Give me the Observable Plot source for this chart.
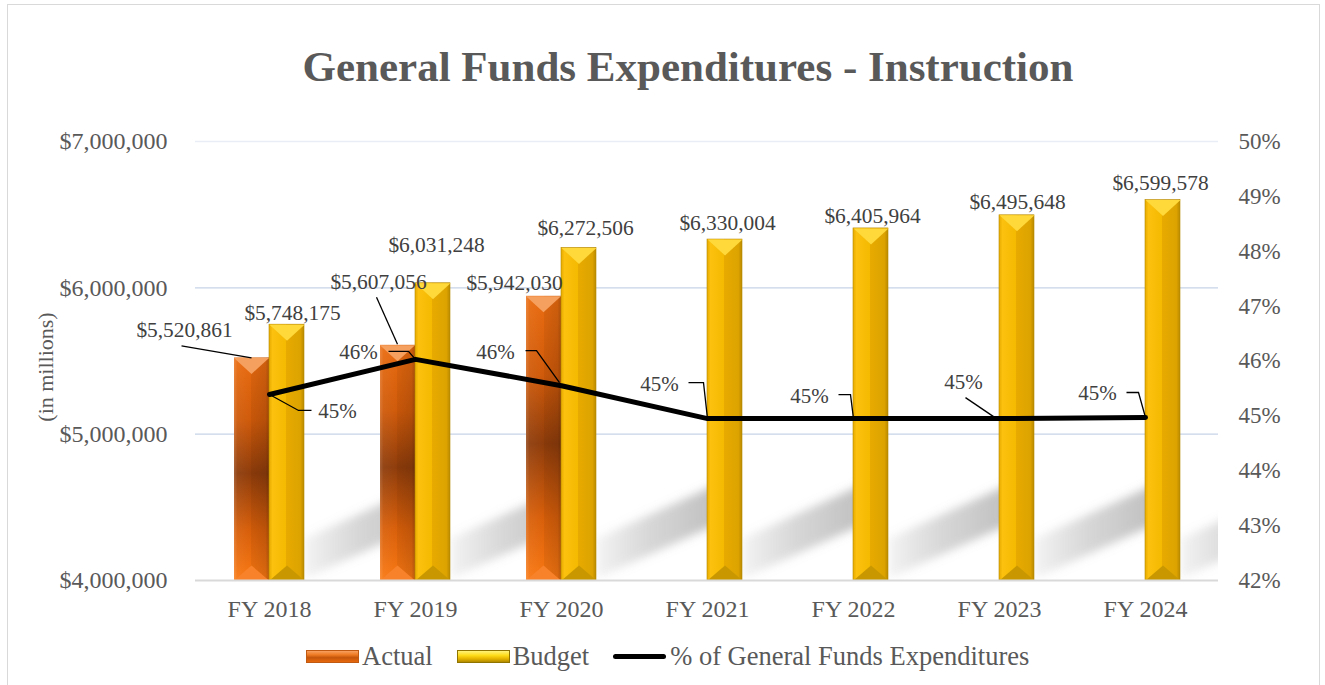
<!DOCTYPE html>
<html><head><meta charset="utf-8">
<script src="https://cdn.jsdelivr.net/npm/d3@7"></script>
<script src="https://cdn.jsdelivr.net/npm/@observablehq/plot@0.6"></script>
<style>
html,body{margin:0;padding:0;background:#fff;width:1325px;height:685px;overflow:hidden;}
#frame{position:absolute;left:7px;top:4px;width:1313px;height:720px;border:1px solid #d9d9d9;box-sizing:border-box;}
#title{position:absolute;top:45px;left:688px;transform:translateX(-50%);white-space:nowrap;font:bold 43px "Liberation Serif";color:#595959;line-height:43px;}
#chart{position:absolute;left:0;top:100px;}
#legend{position:absolute;left:306px;top:640px;height:32px;display:flex;align-items:center;font:26.5px "Liberation Serif";color:#595959;white-space:nowrap;}
.sw{width:53px;height:13px;box-sizing:border-box;margin-right:3px;}
.swA{background:linear-gradient(to bottom,#f7a060,#ef7a22 35%,#c4560c 60%,#e8680c);border:1px solid #c05a12;}
.swB{background:linear-gradient(to bottom,#fff27a,#ffdc1a 40%,#e6b400 70%,#b08a00);border:1px solid #8f7400;}
.swL{width:53px;height:5px;background:#000;border-radius:3px;margin-right:4px;}
.it{margin-right:24px;}
</style></head>
<body>
<div id="frame"></div>
<div id="title">General Funds Expenditures - Instruction</div>
<div id="chart"></div>
<div id="legend"></div>
<script>
// ---------- data ----------
const years = ["FY 2018","FY 2019","FY 2020","FY 2021","FY 2022","FY 2023","FY 2024"];
const actual = [5520861, 5607056, 5942030, null, null, null, null];
const budget = [5748175, 6031248, 6272506, 6330004, 6405964, 6495648, 6599578];
const pctOfGF = [45.39, 46.03, 45.55, 44.95, 44.95, 44.95, 44.97];
const dollarTicks = [4000000, 5000000, 6000000, 7000000];
const pctTicks = [42, 43, 44, 45, 46, 47, 48, 49, 50];
const seriesNames = ["Actual", "Budget", "% of General Funds Expenditures"];
const yAxisTitle = "(in millions)";

// ---------- label placement (style) ----------
const actualLabelStyle = [{dx:-85,dy:-28},{dx:-37,dy:-63},{dx:-47,dy:-13}];
const actualLeaders = [[[-18,0],[-88,-12]], [[-18,-1],[-39,-48]], null];
const budgetLabelStyle = [{dx:23,dy:-12},{dx:21,dy:-38},{dx:24,dy:-20},{dx:20,dy:-16},{dx:19,dy:-12},{dx:18,dy:-13},{dx:15,dy:-17}];
const pctLabelStyle = [{dx:68,dy:17},{dx:-57,dy:-7},{dx:-66,dy:-33},{dx:-48,dy:-34},{dx:-44,dy:-22},{dx:-36,dy:-36},{dx:-48,dy:-24}];
const pctLeaders = [
  [[0,0],[29,16],[42,16]],
  [[0,0],[-7,-8],[-27,-8]],
  [[-2,-3],[-25,-35],[-36,-35]],
  [[0,0],[-4,-36],[-19,-36]],
  [[0,0],[-3,-24],[-15,-24]],
  [[-3,0],[-34,-21]],
  [[0,0],[-7,-25],[-19,-25]]
];

// ---------- derived ----------
const rows = years.map((year, i) => ({year, actual: actual[i], budget: budget[i], pct: pctOfGF[i], i}));
const actualRows = rows.filter(d => d.actual != null);
const yMin = dollarTicks[0], yMax = dollarTicks[dollarTicks.length - 1];
const pMin = pctTicks[0], pMax = pctTicks[pctTicks.length - 1];
const pctToY = p => yMin + (p - pMin) / (pMax - pMin) * (yMax - yMin);
const yToPct = v => pMin + (v - yMin) / (yMax - yMin) * (pMax - pMin);
const fmtDollar = d => "$" + d3.format(",")(d);

const poly = (pts, close) => ({draw(ctx) {
  ctx.moveTo(pts[0][0], pts[0][1]);
  for (let k = 1; k < pts.length; ++k) ctx.lineTo(pts[k][0], pts[k][1]);
  if (close) ctx.closePath();
}});
const BW = 35;
const topTri = poly([[-BW/2,0],[BW/2,0],[0,16]], true);
const botTri = poly([[-BW/2,0],[BW/2,0],[0,-15]], true);
const shadowShape = poly([[BW,-2],[BW,-42],[BW+135,-42-0.45*135],[BW+135,-2-0.45*135]], true);

const FONT = "Liberation Serif";
const LABEL = "#404040";

const marks = [
  // shadows
  Plot.dot(rows, {x: "year", y: yMin, symbol: shadowShape, fill: "url(#gShadow)", stroke: "none", clip: true}),
  // grid
  Plot.ruleY(dollarTicks.slice(1, -1), {stroke: "#c7d3e6", strokeWidth: 1.3}),
  Plot.ruleY(dollarTicks.slice(-1), {stroke: "#e9eef6", strokeWidth: 1.3}),
  // bars
  Plot.barY(actualRows, {x: "year", y1: yMin, y2: "actual", insetLeft: 38, insetRight: 73, fill: "url(#gActualV)"}),
  Plot.barY(actualRows, {x: "year", y1: yMin, y2: "actual", insetLeft: 38, insetRight: 73, fill: "url(#gShadeH)"}),
  Plot.barY(rows, {x: "year", y1: yMin, y2: "budget", insetLeft: 73, insetRight: 38, fill: "url(#gBudgetH)", stroke: "#b58900", strokeWidth: 0.6}),
  Plot.dot(actualRows, {x: "year", y: "actual", dx: -BW/2 - 0.5, symbol: topTri, fill: "#f6a060", stroke: "none"}),
  Plot.dot(rows, {x: "year", y: "budget", dx: BW/2, symbol: topTri, fill: "#ffd83a", stroke: "none"}),
  Plot.dot(actualRows, {x: "year", y: yMin, dx: -BW/2 - 0.5, symbol: botTri, fill: "#f8822a", stroke: "none"}),
  Plot.dot(rows, {x: "year", y: yMin, dx: BW/2, symbol: botTri, fill: "#c99800", stroke: "none"}),
  // baseline
  Plot.ruleY([yMin], {stroke: "#d9d9d9", strokeWidth: 2}),
  // line
  Plot.line(rows, {x: "year", y: d => pctToY(d.pct), stroke: "#000", strokeWidth: 5, strokeLinejoin: "round", strokeLinecap: "round"}),
  // axes
  Plot.axisY(dollarTicks, {anchor: "left", tickFormat: fmtDollar, tickSize: 0, tickPadding: 28, fontSize: 24, label: null}),
  Plot.axisY(pctTicks.map(pctToY), {anchor: "right", tickFormat: v => Math.round(yToPct(v)) + "%", tickSize: 0, tickPadding: 20, fontSize: 23, label: null}),
  Plot.axisX({tickSize: 0, tickPadding: 19, fontSize: 24, label: null}),
  Plot.text([yAxisTitle], {frameAnchor: "left", textAnchor: "middle", rotate: -90, dx: -150, dy: 6, fontSize: 22, fill: "#595959"})
];

actualRows.forEach((d, k) => {
  const s = actualLabelStyle[k];
  marks.push(Plot.text([d], {x: "year", y: "actual", text: r => fmtDollar(r.actual), dx: s.dx, dy: s.dy, fontSize: 21.4, fill: LABEL}));
  if (actualLeaders[k]) marks.push(Plot.dot([d], {x: "year", y: "actual", symbol: poly(actualLeaders[k]), fill: "none", stroke: "#000", strokeWidth: 1.3}));
});
rows.forEach((d, k) => {
  const s = budgetLabelStyle[k];
  marks.push(Plot.text([d], {x: "year", y: "budget", text: r => fmtDollar(r.budget), dx: s.dx, dy: s.dy, fontSize: 21.4, fill: LABEL}));
  const p = pctLabelStyle[k];
  marks.push(Plot.dot([d], {x: "year", y: r => pctToY(r.pct), symbol: poly(pctLeaders[k]), fill: "none", stroke: "#000", strokeWidth: 1.3}));
  marks.push(Plot.text([d], {x: "year", y: r => pctToY(r.pct), text: r => Math.round(r.pct) + "%", dx: p.dx, dy: p.dy, fontSize: 21, fill: LABEL}));
});

const svg = Plot.plot({
  width: 1325,
  height: 540,
  marginTop: 41,
  marginBottom: 60,
  marginLeft: 195,
  marginRight: 107,
  style: {fontFamily: FONT, color: "#595959", background: "transparent", overflow: "visible"},
  x: {type: "band", domain: years, padding: 0, label: null},
  y: {domain: [yMin, yMax], label: null},
  marks
});

const defs = d3.select(svg).insert("defs", ":first-child");
function grad(id, stops, vertical) {
  const g = defs.append("linearGradient").attr("id", id)
    .attr("x1", 0).attr("y1", 0).attr("x2", vertical ? 0 : 1).attr("y2", vertical ? 1 : 0);
  stops.forEach(([o, c, a]) => g.append("stop").attr("offset", o).attr("stop-color", c).attr("stop-opacity", a == null ? 1 : a));
}
grad("gActualV", [[0,"#ea6c10"],[0.28,"#cf5a0a"],[0.52,"#8e3c0b"],[0.78,"#d85f0a"],[1,"#f97812"]], true);
grad("gShadeH", [[0,"#ffffff",0.18],[0.1,"#ffffff",0.05],[0.5,"#ffffff",0.0],[0.5,"#000000",0.05],[0.9,"#000000",0.12],[1,"#000000",0.25]], false);
grad("gBudgetH", [[0,"#e6aa00"],[0.1,"#fbc10e"],[0.5,"#f4b900"],[0.5,"#e7aa00"],[0.9,"#dca300"],[1,"#b98a00"]], false);
grad("gShadow", [[0,"#9a9a9a",0.12],[0.4,"#9a9a9a",0.4],[1,"#8a8a8a",0.6]], false);
defs.append("filter").attr("id", "blurS").attr("x", "-20%").attr("y", "-20%").attr("width", "140%").attr("height", "140%")
  .append("feGaussianBlur").attr("stdDeviation", 5);
svg.querySelectorAll('[fill="url(#gShadow)"]').forEach(el => el.setAttribute("filter", "url(#blurS)"));

document.getElementById("chart").appendChild(svg);

// legend
const legend = document.getElementById("legend");
const swClass = ["sw swA", "sw swB", "swL"];
seriesNames.forEach((name, k) => {
  const sw = document.createElement("div"); sw.className = swClass[k];
  const t = document.createElement("span"); t.textContent = name; if (k < 2) t.className = "it";
  legend.appendChild(sw); legend.appendChild(t);
});
</script>
</body></html>
